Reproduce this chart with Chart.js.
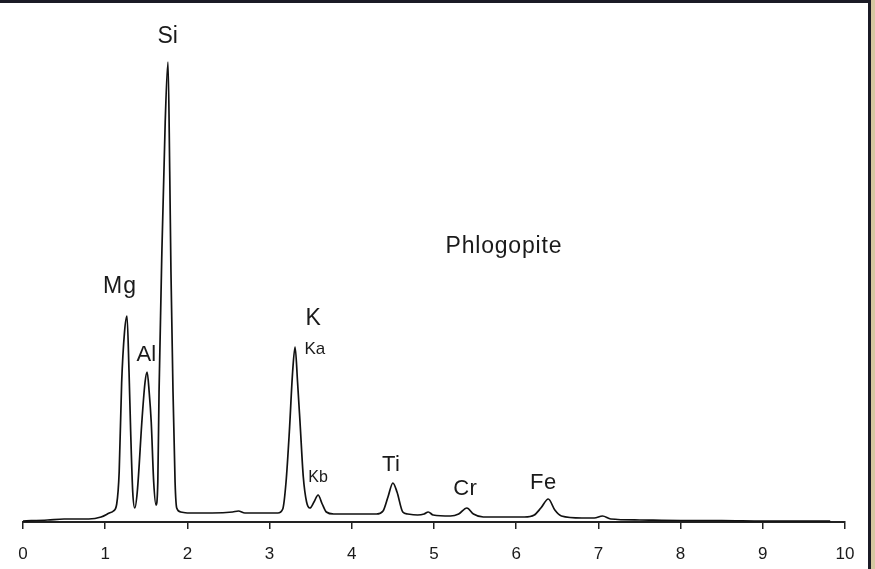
<!DOCTYPE html>
<html>
<head>
<meta charset="utf-8">
<script src="https://cdn.jsdelivr.net/npm/chart.js@4/dist/chart.umd.min.js"></script>
<style>
  html, body { margin: 0; padding: 0; background: #fff; }
  #wrap { position: relative; width: 875px; height: 569px; overflow: hidden; }
  #topBar { position: absolute; left: 0; top: 0; width: 875px; height: 3px; background: #1b1b26; }
  #rightBar { position: absolute; left: 868px; top: 0; width: 3px; height: 569px; background: #1b1b26; }
  #rightEdge { position: absolute; left: 871px; top: 0; width: 4px; height: 569px; background: #d6c8a2; }
</style>
</head>
<body>
<div id="wrap">
  <canvas id="spectrum" width="875" height="569"></canvas>
  <div id="topBar"></div>
  <div id="rightBar"></div>
  <div id="rightEdge"></div>
</div>
<script>
// ---- data (energy in keV, intensity in arbitrary counts) ----
const energy = [
  0.00, 0.30, 0.50, 0.80, 0.95, 1.05, 1.10, 1.14, 1.17, 1.20, 1.235, 1.265, 1.29, 1.31, 1.335, 1.36,
  1.39, 1.45, 1.485, 1.51, 1.535, 1.56, 1.59, 1.618,
  1.64, 1.655, 1.69, 1.73, 1.764, 1.785, 1.80, 1.825, 1.85, 1.87, 1.92,
  2.00, 2.30, 2.55, 2.62, 2.70, 3.00, 3.10, 3.16, 3.20, 3.24, 3.28, 3.31, 3.34, 3.37, 3.41, 3.45, 3.49,
  3.54, 3.59, 3.64, 3.69, 3.78, 4.00, 4.30, 4.38, 4.44, 4.50, 4.55, 4.62, 4.68, 4.80, 4.88, 4.93, 4.99,
  5.20, 5.30, 5.40, 5.48, 5.60, 5.90, 6.10, 6.22, 6.30, 6.39, 6.47, 6.55, 6.80, 6.95, 7.05, 7.15,
  7.50, 8.00, 8.50, 9.00, 9.50, 9.82
];
const counts = [
  1, 2, 3, 3, 5, 9, 11, 18, 50, 139, 190, 206, 150, 90, 30, 14,
  30, 105, 140, 150, 130, 100, 40, 17,
  40, 130, 272, 400, 460, 350, 250, 130, 40, 14, 10,
  9, 9, 10, 11, 9, 9, 9, 13, 40, 90, 150, 175, 140, 100, 45, 20, 14,
  20, 27, 18, 10, 8, 8, 8, 11, 25, 39, 30, 10, 8, 7, 8, 10, 7,
  6, 8, 14, 8, 5, 5, 5, 7, 14, 23, 12, 6, 4, 4, 6, 3,
  2, 1.5, 1.5, 1, 1, 1
];
const xTicks = [0, 1, 2, 3, 4, 5, 6, 7, 8, 9, 10];

// peak labels: text, energy, intensity at text centre
const peakNames  = ['Si', 'Mg', 'Al', 'K', 'Ka', 'Kb', 'Ti', 'Cr', 'Fe', 'Phlogopite'];
const peakEnergy = [1.76, 1.18, 1.50, 3.53, 3.55, 3.59, 4.48, 5.38, 6.33, 5.85];
const peakLevel  = [485, 235, 167, 203, 173, 44, 57, 33, 39, 275];
const peakSize   = [23, 23, 22, 23, 17, 16, 22, 22, 22, 23];
const peakGap    = [0, 1, 0, 0, 0, 0, 0.5, 0.5, 0.5, 0.8];

const points = energy.map((e, i) => ({ x: e, y: counts[i] }));

// draws the element names at data positions
const peakLabels = {
  id: 'peakLabels',
  afterDraw(chart) {
    const { ctx, scales } = chart;
    ctx.save();
    ctx.fillStyle = '#1a1a1a';
    ctx.textAlign = 'center';
    ctx.textBaseline = 'middle';
    peakNames.forEach((name, i) => {
      ctx.font = peakSize[i] + 'px "Liberation Sans", Arial, sans-serif';
      ctx.letterSpacing = peakGap[i] + 'px';
      ctx.fillText(name, scales.x.getPixelForValue(peakEnergy[i]), scales.y.getPixelForValue(peakLevel[i]));
    });
    ctx.restore();
  }
};

new Chart(document.getElementById('spectrum'), {
  type: 'line',
  data: {
    datasets: [{
      data: points,
      borderColor: '#111',
      borderWidth: 1.7,
      pointRadius: 0,
      fill: false,
      cubicInterpolationMode: 'monotone'
    }]
  },
  options: {
    responsive: false,
    animation: false,
    layout: { padding: { left: 23, right: 30, top: 22, bottom: 0 } },
    plugins: { legend: { display: false }, tooltip: { enabled: false } },
    scales: {
      x: {
        type: 'linear',
        min: 0,
        max: 10,
        afterBuildTicks: s => { s.ticks = xTicks.map(v => ({ value: v })); },
        afterFit: s => { s.height = 47; },
        ticks: {
          color: '#1a1a1a',
          padding: 15,
          font: { family: '"Liberation Sans", Arial, sans-serif', size: 17 }
        },
        grid: { drawOnChartArea: false, drawTicks: true, tickLength: 7, color: '#222', lineWidth: 1.5 },
        border: { display: true, color: '#222', width: 2 }
      },
      y: { display: false, min: 0, max: 500 }
    }
  },
  plugins: [peakLabels]
});
</script>
</body>
</html>
